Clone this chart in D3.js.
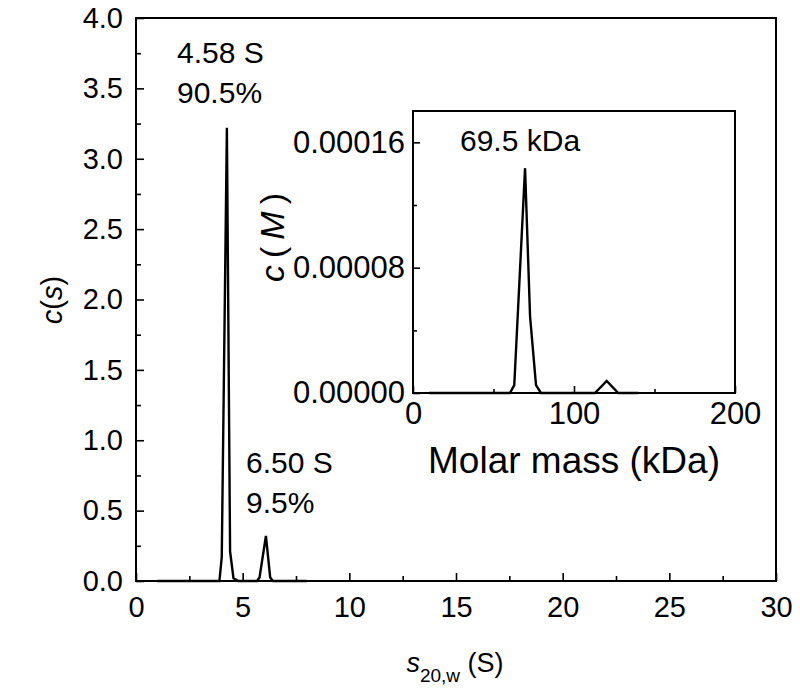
<!DOCTYPE html>
<meta charset="utf-8">
<style type="text/css">
body {
  margin: 0;
  background: #fff;
  font-family: 'Liberation Sans', Arial, sans-serif;
}
.frame { fill: none; stroke: #000; stroke-width: 2px; }
.trace { fill: none; stroke: #000; stroke-width: 2.4px; stroke-linejoin: miter; }
.axis path { display: none; }
.axis line { stroke: #000; stroke-width: 1.6px; }
.axis text { font-family: 'Liberation Sans', Arial, sans-serif; fill: #000; }
.lbl { font-family: 'Liberation Sans', Arial, sans-serif; fill: #000; }
</style>
<body>
<div id="chart"></div>
<script src="https://cdnjs.cloudflare.com/ajax/libs/d3/7.8.5/d3.min.js"></script>
<script>

// main c(s) distribution
var sValues  = [1.0, 3.91, 4.02, 4.26, 4.41, 4.57, 4.8, 5.67, 5.79, 6.09, 6.29, 6.42, 8.0];
var csValues = [0,   0,    0.17, 3.22, 0.21, 0.02, 0,   0,    0.025, 0.32, 0.025, 0,   0];
var mainXTicks = [0, 5, 10, 15, 20, 25, 30];
var mainYTicks = [0, 0.5, 1.0, 1.5, 2.0, 2.5, 3.0, 3.5, 4.0];

// inset c(M) distribution
var massValues = [10, 60.2, 62.9, 69.6, 72.7, 76.4, 79.5, 113, 120.3, 127.5, 140];
var cmValues   = [0, 0, 0.000005, 0.0001435, 0.000049, 0.000005, 0, 0, 0.0000077, 0, 0];
var insetXTicks = [0, 100, 200];
var insetYTicks = [0, 0.00008, 0.00016];

var width = 800, height = 693;

var svg = d3.select("#chart").append("svg")
  .attr("width", width)
  .attr("height", height);

//Main scales
var x = d3.scaleLinear().domain([0, 30]).range([136, 776]);
var y = d3.scaleLinear().domain([0, 4]).range([581, 18]);

var line = d3.line()
  .x(function(d) { return x(d[0]); })
  .y(function(d) { return y(d[1]); });

//minor ticks
svg.append("g").attr("class", "axis")
  .attr("transform", "translate(0," + y(0) + ")")
  .call(d3.axisBottom(x).tickValues(d3.range(2.5, 30, 5)).tickSize(-5).tickFormat(""));
svg.append("g").attr("class", "axis")
  .attr("transform", "translate(" + x(0) + ",0)")
  .call(d3.axisLeft(y).tickValues(d3.range(0.25, 4, 0.5)).tickSize(-5).tickFormat(""));

//major ticks
svg.append("g").attr("class", "axis")
  .attr("transform", "translate(0," + y(0) + ")")
  .call(d3.axisBottom(x).tickValues(mainXTicks).tickSize(-8).tickPadding(15).tickFormat(d3.format("d")))
  .selectAll("text").style("font-size", "29px");
svg.append("g").attr("class", "axis")
  .attr("transform", "translate(" + x(0) + ",0)")
  .call(d3.axisLeft(y).tickValues(mainYTicks).tickSize(-8).tickPadding(13).tickFormat(d3.format(".1f")))
  .selectAll("text").style("font-size", "29px");

svg.append("rect").attr("class", "frame")
  .attr("x", x(0)).attr("y", y(4))
  .attr("width", x(30) - x(0)).attr("height", y(0) - y(4));

svg.append("path").attr("class", "trace")
  .attr("d", line(d3.zip(sValues, csValues)));

//peak labels
var ann = [["4.58 S", 177, 63], ["90.5%", 177, 103], ["6.50 S", 246, 473], ["9.5%", 246, 513]];
svg.selectAll("text.ann").data(ann).enter().append("text")
  .attr("class", "lbl ann")
  .attr("x", function(d) { return d[1]; })
  .attr("y", function(d) { return d[2]; })
  .style("font-size", "30px")
  .text(function(d) { return d[0]; });

//axis titles
var xt = svg.append("text").attr("class", "lbl")
  .attr("x", 455).attr("y", 672)
  .attr("text-anchor", "middle")
  .style("font-size", "27px");
xt.append("tspan").style("font-style", "italic").text("s");
xt.append("tspan").attr("dy", 10).style("font-size", "19px").text("20,w");
xt.append("tspan").attr("dy", -10).text(" (S)");

var yt = svg.append("text").attr("class", "lbl")
  .attr("transform", "translate(62,300) rotate(-90)")
  .attr("text-anchor", "middle")
  .style("font-size", "29px");
yt.append("tspan").style("font-style", "italic").text("c");
yt.append("tspan").text("(");
yt.append("tspan").style("font-style", "italic").text("s");
yt.append("tspan").text(")");

//Inset
var ix = d3.scaleLinear().domain([0, 200]).range([413, 735]);
var iy = d3.scaleLinear().domain([0, 0.00018]).range([393, 111]);

var iline = d3.line()
  .x(function(d) { return ix(d[0]); })
  .y(function(d) { return iy(d[1]); });

svg.append("rect")
  .attr("x", ix(0)).attr("y", iy(0.00018))
  .attr("width", ix(200) - ix(0)).attr("height", iy(0) - iy(0.00018))
  .attr("fill", "#fff");

svg.append("g").attr("class", "axis")
  .attr("transform", "translate(0," + iy(0) + ")")
  .call(d3.axisBottom(ix).tickValues([50, 150]).tickSize(-4).tickFormat(""));
svg.append("g").attr("class", "axis")
  .attr("transform", "translate(" + ix(0) + ",0)")
  .call(d3.axisLeft(iy).tickValues([0.00004, 0.00012]).tickSize(-4).tickFormat(""));

svg.append("g").attr("class", "axis")
  .attr("transform", "translate(0," + iy(0) + ")")
  .call(d3.axisBottom(ix).tickValues(insetXTicks).tickSize(-7).tickPadding(9).tickFormat(d3.format("d")))
  .selectAll("text").style("font-size", "31px");
svg.append("g").attr("class", "axis")
  .attr("transform", "translate(" + ix(0) + ",0)")
  .call(d3.axisLeft(iy).tickValues(insetYTicks).tickSize(-7).tickPadding(8).tickFormat(d3.format(".5f")))
  .selectAll("text").style("font-size", "31px");

svg.append("rect").attr("class", "frame")
  .attr("x", ix(0)).attr("y", iy(0.00018))
  .attr("width", ix(200) - ix(0)).attr("height", iy(0) - iy(0.00018));

svg.append("path").attr("class", "trace")
  .attr("d", iline(d3.zip(massValues, cmValues)));

svg.append("text").attr("class", "lbl")
  .attr("x", 460).attr("y", 151)
  .style("font-size", "30px")
  .text("69.5 kDa");

svg.append("text").attr("class", "lbl")
  .attr("x", ix(100)).attr("y", 473)
  .attr("text-anchor", "middle")
  .style("font-size", "37px")
  .text("Molar mass (kDa)");

var it = svg.append("text").attr("class", "lbl")
  .attr("transform", "translate(284,234) rotate(-90)")
  .attr("text-anchor", "middle")
  .style("font-size", "34px")
  .style("letter-spacing", "7px");
it.append("tspan").style("font-style", "italic").text("c");
it.append("tspan").text("(");
it.append("tspan").style("font-style", "italic").text("M");
it.append("tspan").text(")");

</script>
</body>
